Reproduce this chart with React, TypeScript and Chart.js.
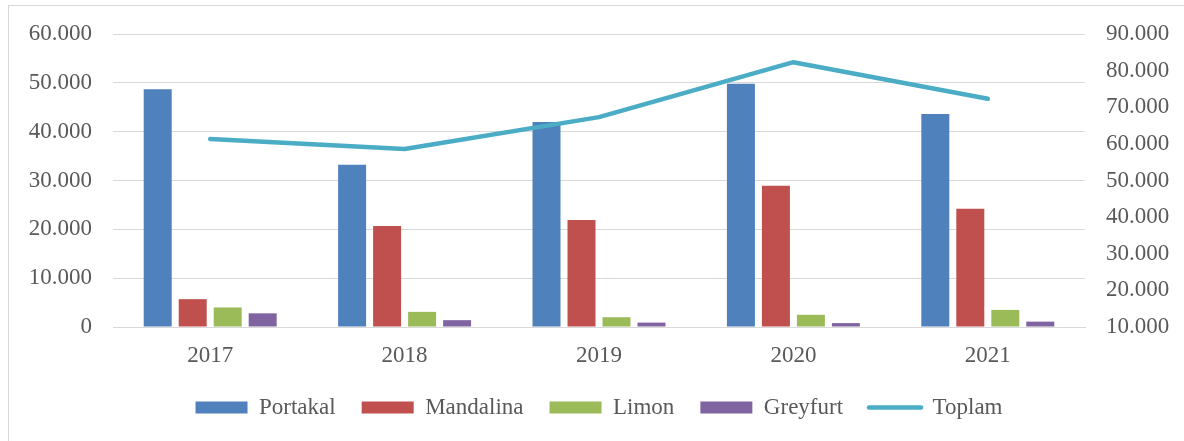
import React, { useEffect, useRef } from "react";
import { Chart, registerables } from "chart.js";

Chart.register(...registerables);

const years = ["2017", "2018", "2019", "2020", "2021"];
const portakal = [48700, 33200, 42000, 49800, 43600];
const mandalina = [5700, 20700, 21900, 28900, 24200];
const limon = [4000, 3100, 2000, 2500, 3500];
const greyfurt = [2800, 1400, 900, 800, 1100];
const toplam = [61300, 58600, 67300, 82300, 72300];

const leftTicks = { min: 0, max: 60000, step: 10000 };
const rightTicks = { min: 10000, max: 90000, step: 10000 };

const FONT = "'Liberation Serif', 'Times New Roman', serif";
const TEXT = "#595959";
const GRID = "#D9D9D9";

function fmt(v: number): string {
  const s = Math.round(v).toString();
  return s.replace(/\B(?=(\d{3})+(?!\d))/g, ".");
}

export default function App() {
  const ref = useRef<HTMLCanvasElement | null>(null);
  useEffect(() => {
    if (!ref.current) return;
    const barCommon = {
      type: "bar" as const,
      yAxisID: "y",
      categoryPercentage: 0.72,
      barPercentage: 0.8,
      order: 1,
    };
    const fitY = (s: any) => {
      s.width = 86;
      s.paddingTop = 10;
      s.paddingBottom = 10;
    };
    const chart = new Chart(ref.current, {
      type: "bar",
      data: {
        labels: years,
        datasets: [
          { ...barCommon, label: "Portakal", data: portakal, backgroundColor: "#4F81BD" },
          { ...barCommon, label: "Mandalina", data: mandalina, backgroundColor: "#C0504D" },
          { ...barCommon, label: "Limon", data: limon, backgroundColor: "#9BBB59" },
          { ...barCommon, label: "Greyfurt", data: greyfurt, backgroundColor: "#8064A2" },
          {
            type: "line" as const,
            label: "Toplam",
            data: toplam,
            yAxisID: "y1",
            borderColor: "#4BACC6",
            backgroundColor: "#4BACC6",
            borderWidth: 4.5,
            borderCapStyle: "round",
            borderJoinStyle: "round",
            pointRadius: 0,
            tension: 0,
            order: 0,
          } as any,
        ],
      },
      options: {
        animation: false,
        responsive: false,
        maintainAspectRatio: false,
        layout: { padding: { left: 18, right: 13, top: 28, bottom: 13 } },
        plugins: {
          tooltip: { enabled: false },
          legend: {
            position: "bottom",
            labels: {
              usePointStyle: true,
              pointStyleWidth: 52,
              boxHeight: 12,
              padding: 26,
              color: TEXT,
              font: { family: FONT, size: 23 },
              sort: (a: any, b: any) => a.datasetIndex - b.datasetIndex,
              generateLabels: (chart: any) => {
                const items = Chart.defaults.plugins.legend.labels.generateLabels(chart);
                return items.map((it: any) => {
                  if (it.text === "Toplam") {
                    return { ...it, pointStyle: "line", lineWidth: 4.5, lineCap: "round", strokeStyle: "#4BACC6" };
                  }
                  return { ...it, pointStyle: "rect", lineWidth: 0 };
                });
              },
            },
          },
        },
        scales: {
          x: {
            grid: { display: false, drawTicks: false },
            border: { display: true, color: GRID },
            ticks: { color: TEXT, padding: 15, font: { family: FONT, size: 23 } },
            afterFit: (s: any) => { s.height = 43; },
          },
          y: {
            position: "left",
            min: leftTicks.min,
            max: leftTicks.max,
            grid: { color: GRID, drawTicks: false, lineWidth: 1 },
            border: { display: false },
            ticks: {
              stepSize: leftTicks.step,
              padding: 21,
              color: TEXT,
              font: { family: FONT, size: 23 },
              callback: (v: any) => fmt(Number(v)),
            },
            afterFit: fitY,
          },
          y1: {
            position: "right",
            min: rightTicks.min,
            max: rightTicks.max,
            grid: { display: false, drawTicks: false },
            border: { display: false },
            ticks: {
              stepSize: rightTicks.step,
              padding: 21,
              color: TEXT,
              font: { family: FONT, size: 23 },
              callback: (v: any) => fmt(Number(v)),
            },
            afterFit: fitY,
          },
        },
      },
    } as any);
    return () => chart.destroy();
  }, []);

  return (
    <div style={{ position: "fixed", inset: 0, overflow: "hidden", background: "#fff" }}>
      <div
        style={{
          position: "absolute",
          left: 8,
          top: 5,
          width: 1200,
          height: 460,
          borderLeft: `1px solid ${GRID}`,
          borderTop: `1px solid ${GRID}`,
        }}
      >
        <canvas ref={ref} width={1175} height={436} style={{ display: "block", width: 1175, height: 436 }} />
      </div>
    </div>
  );
}
